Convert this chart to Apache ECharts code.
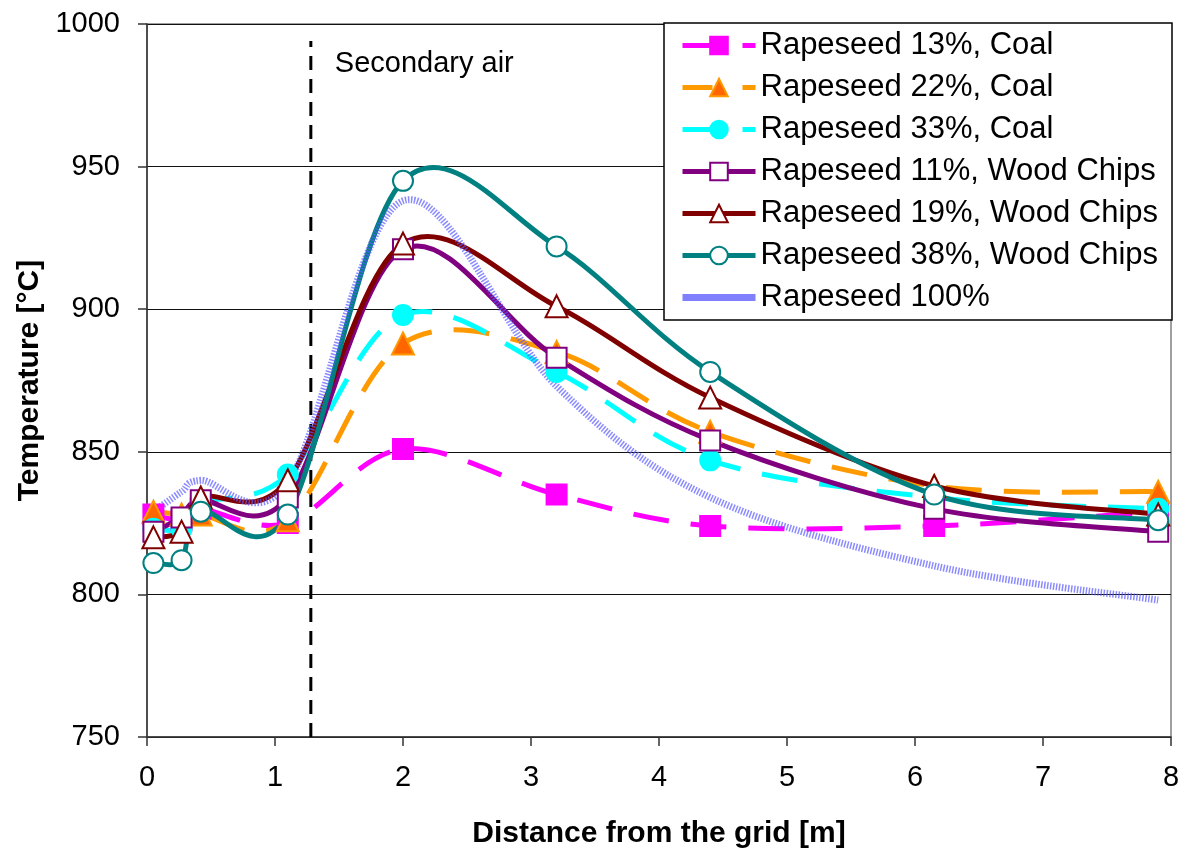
<!DOCTYPE html>
<html>
<head>
<meta charset="utf-8">
<script src="https://cdn.jsdelivr.net/npm/echarts@6/dist/echarts.min.js"></script>
<style>
html,body{margin:0;padding:0;background:#fff;}
#chart{width:1179px;height:849px;}
</style>
</head>
<body>
<div id="chart"></div>
<script>
// Distances from the grid [m] (measurement positions)
const distances = [0.05, 0.27, 0.42, 1.1, 2.0, 3.2, 4.4, 6.15, 7.9];

// Temperatures [°C]
const rape13Coal   = [828, 826, 830, 825, 851, 835, 824, 824, 829];
const rape22Coal   = [829, 828, 828, 826, 888, 885, 857, 838, 836];
const rape33Coal   = [823, 823, 832, 842, 898, 878, 847, 834, 830];
const rape11Wood   = [822, 827, 833, 834, 921, 883, 854, 830, 822];
const rape19Wood   = [820, 822, 834, 840, 923, 901, 869, 838, 828];
const rape38Wood   = [811, 812, 829, 828, 945, 922, 878, 835, 826];
const rape100      = [829, 836, 840, 839, 938, 873, 834, 810, 798];

const seriesNames = [
  'Rapeseed 13%, Coal',
  'Rapeseed 22%, Coal',
  'Rapeseed 33%, Coal',
  'Rapeseed 11%, Wood Chips',
  'Rapeseed 19%, Wood Chips',
  'Rapeseed 38%, Wood Chips',
  'Rapeseed 100%'
];

// Secondary air position and vertical marker extent
const secondaryAirX = 1.28;
const secondaryAirLine = [750, 994];
const secondaryAirLabelY = 986;

const xTicks = [0, 1, 2, 3, 4, 5, 6, 7, 8];
const yTicks = [750, 800, 850, 900, 950, 1000];

const FONT = '"Liberation Sans", Arial, sans-serif';
const dashPattern = [36, 22];

function pairs(ys) { return distances.map((x, i) => [x, ys[i]]); }

// Spline (cardinal, Excel-like) drawn through the data points with the axis scales
function curveSeries(ys, stroke, width, dash, z, opacity) {
  return {
    type: 'custom',
    name: '_curve',
    coordinateSystem: 'cartesian2d',
    data: pairs(ys),
    silent: true,
    clip: true,
    z: z,
    renderItem: function (params, api) {
      if (params.dataIndex !== 0) return null;
      const pts = distances.map((x, i) => api.coord([x, ys[i]]));
      const n = pts.length;
      let d = 'M' + pts[0][0] + ' ' + pts[0][1];
      for (let i = 0; i < n - 1; i++) {
        const p0 = pts[Math.max(i - 1, 0)], p1 = pts[i], p2 = pts[i + 1], p3 = pts[Math.min(i + 2, n - 1)];
        const c1 = [p1[0] + (p2[0] - p0[0]) / 6, p1[1] + (p2[1] - p0[1]) / 6];
        const c2 = [p2[0] - (p3[0] - p1[0]) / 6, p2[1] - (p3[1] - p1[1]) / 6];
        d += ' C' + c1[0] + ' ' + c1[1] + ' ' + c2[0] + ' ' + c2[1] + ' ' + p2[0] + ' ' + p2[1];
      }
      return {
        type: 'path',
        shape: { pathData: d },
        style: { fill: null, stroke: stroke, lineWidth: width, lineDash: dash || null, lineCap: 'butt', lineJoin: 'round', opacity: opacity == null ? 1 : opacity }
      };
    }
  };
}

function markerSeries(name, ys, symbol, fill, border) {
  return {
    name: name,
    type: 'line',
    data: pairs(ys),
    symbol: symbol,
    symbolSize: symbol === 'triangle' ? 22 : 20,
    showSymbol: true,
    lineStyle: { width: 0, opacity: 0 },
    itemStyle: { color: fill, borderColor: border, borderWidth: 2, opacity: 1 },
    emphasis: { disabled: true },
    z: 10
  };
}

const styles = [
  { color: '#FF00FF', dash: dashPattern },
  { color: '#FF9900', dash: dashPattern },
  { color: '#00FFFF', dash: dashPattern },
  { color: '#800080', dash: null },
  { color: '#800000', dash: null },
  { color: '#008080', dash: null }
];

const chart = echarts.init(document.getElementById('chart'), null, { renderer: 'canvas' });

const legendData = seriesNames.slice(0, 6).map((n, i) => ({
  name: n,
  lineStyle: { color: styles[i].color, width: 5, type: styles[i].dash ? [30, 30] : 'solid', opacity: 1 }
}));
legendData.push({
  name: seriesNames[6],
  icon: 'path://M0,0 L73,0 L73,7 L0,7 Z',
  itemStyle: { color: '#8080ff', opacity: 1 }
});

const option = {
  animation: false,
  backgroundColor: '#ffffff',
  textStyle: { fontFamily: FONT },
  grid: {
    left: 147, right: 8, top: 24, bottom: 112,
    outerBoundsMode: 'none',
    containLabel: false,
    show: true, borderColor: '#808080', borderWidth: 1.5, backgroundColor: 'transparent'
  },
  xAxis: {
    type: 'value',
    min: xTicks[0], max: xTicks[xTicks.length - 1], interval: 1,
    name: 'Distance from the grid [m]',
    nameLocation: 'middle',
    nameGap: 82,
    nameTextStyle: { fontSize: 30, fontWeight: 'bold', color: '#000', fontFamily: FONT },
    axisLine: { show: true, onZero: false, lineStyle: { color: '#333', width: 1.5 } },
    axisTick: { show: true, length: 9, inside: false, lineStyle: { color: '#333', width: 1.5 } },
    axisLabel: { fontSize: 29, color: '#000', margin: 26, fontFamily: FONT },
    splitLine: { show: false }
  },
  yAxis: {
    type: 'value',
    min: yTicks[0], max: yTicks[yTicks.length - 1], interval: 50,
    name: 'Temperature [°C]',
    nameLocation: 'middle',
    nameGap: 101,
    nameTextStyle: { fontSize: 30, fontWeight: 'bold', color: '#000', fontFamily: FONT },
    axisLine: { show: true, lineStyle: { color: '#333', width: 1.5 } },
    axisTick: { show: true, length: 9, inside: false, lineStyle: { color: '#333', width: 1.5 } },
    axisLabel: { fontSize: 29, color: '#000', margin: 27, fontFamily: FONT, formatter: v => String(v) },
    splitLine: { show: true, lineStyle: { color: '#111', width: 1 } }
  },
  legend: {
    data: legendData,
    orient: 'vertical',
    left: 664, top: 23,
    padding: [7, 14, 7, 16],
    itemWidth: 73, itemHeight: 22, itemGap: 11,
    backgroundColor: '#fff',
    borderColor: '#000', borderWidth: 1.5,
    textStyle: { fontSize: 31, color: '#000', fontFamily: FONT, lineHeight: 30 },
    selectedMode: false
  },
  series: [
    {
      name: 'secondary-air-line',
      type: 'line',
      data: secondaryAirLine.map(y => [secondaryAirX, y]),
      symbol: 'none',
      lineStyle: { color: '#000', width: 3, type: [14, 9], cap: 'butt' },
      emphasis: { disabled: true },
      z: 2
    },
    curveSeries(rape13Coal, styles[0].color, 5, styles[0].dash, 3),
    curveSeries(rape22Coal, styles[1].color, 5, styles[1].dash, 3),
    curveSeries(rape33Coal, styles[2].color, 5, styles[2].dash, 3),
    curveSeries(rape11Wood, styles[3].color, 5, null, 3),
    curveSeries(rape19Wood, styles[4].color, 5, null, 3),
    curveSeries(rape38Wood, styles[5].color, 5, null, 3),
    curveSeries(rape100, '#5a5aff', 7, [1.5, 1.5], 4, 0.7),
    markerSeries(seriesNames[0], rape13Coal, 'rect', '#FF00FF', '#FF00FF'),
    markerSeries(seriesNames[1], rape22Coal, 'triangle', '#FF6600', '#FF9900'),
    markerSeries(seriesNames[2], rape33Coal, 'circle', '#00FFFF', '#00FFFF'),
    markerSeries(seriesNames[3], rape11Wood, 'rect', '#FFFFFF', '#800080'),
    markerSeries(seriesNames[4], rape19Wood, 'triangle', '#FFFFFF', '#800000'),
    markerSeries(seriesNames[5], rape38Wood, 'circle', '#FFFFFF', '#008080'),
    {
      name: seriesNames[6],
      type: 'line',
      data: pairs(rape100),
      symbol: 'none',
      lineStyle: { width: 0, opacity: 0 },
      itemStyle: { color: '#8080ff' },
      emphasis: { disabled: true },
      z: 1
    },
    {
      name: 'secondary-air-label',
      type: 'scatter',
      data: [[secondaryAirX, secondaryAirLabelY]],
      symbolSize: 0,
      itemStyle: { color: 'rgba(0,0,0,0)', opacity: 1 },
      label: {
        show: true, position: 'right', distance: 24,
        formatter: 'Secondary air', fontSize: 29, color: '#000', fontFamily: FONT
      },
      emphasis: { disabled: true },
      z: 5
    }
  ]
};

chart.setOption(option);
</script>
</body>
</html>
